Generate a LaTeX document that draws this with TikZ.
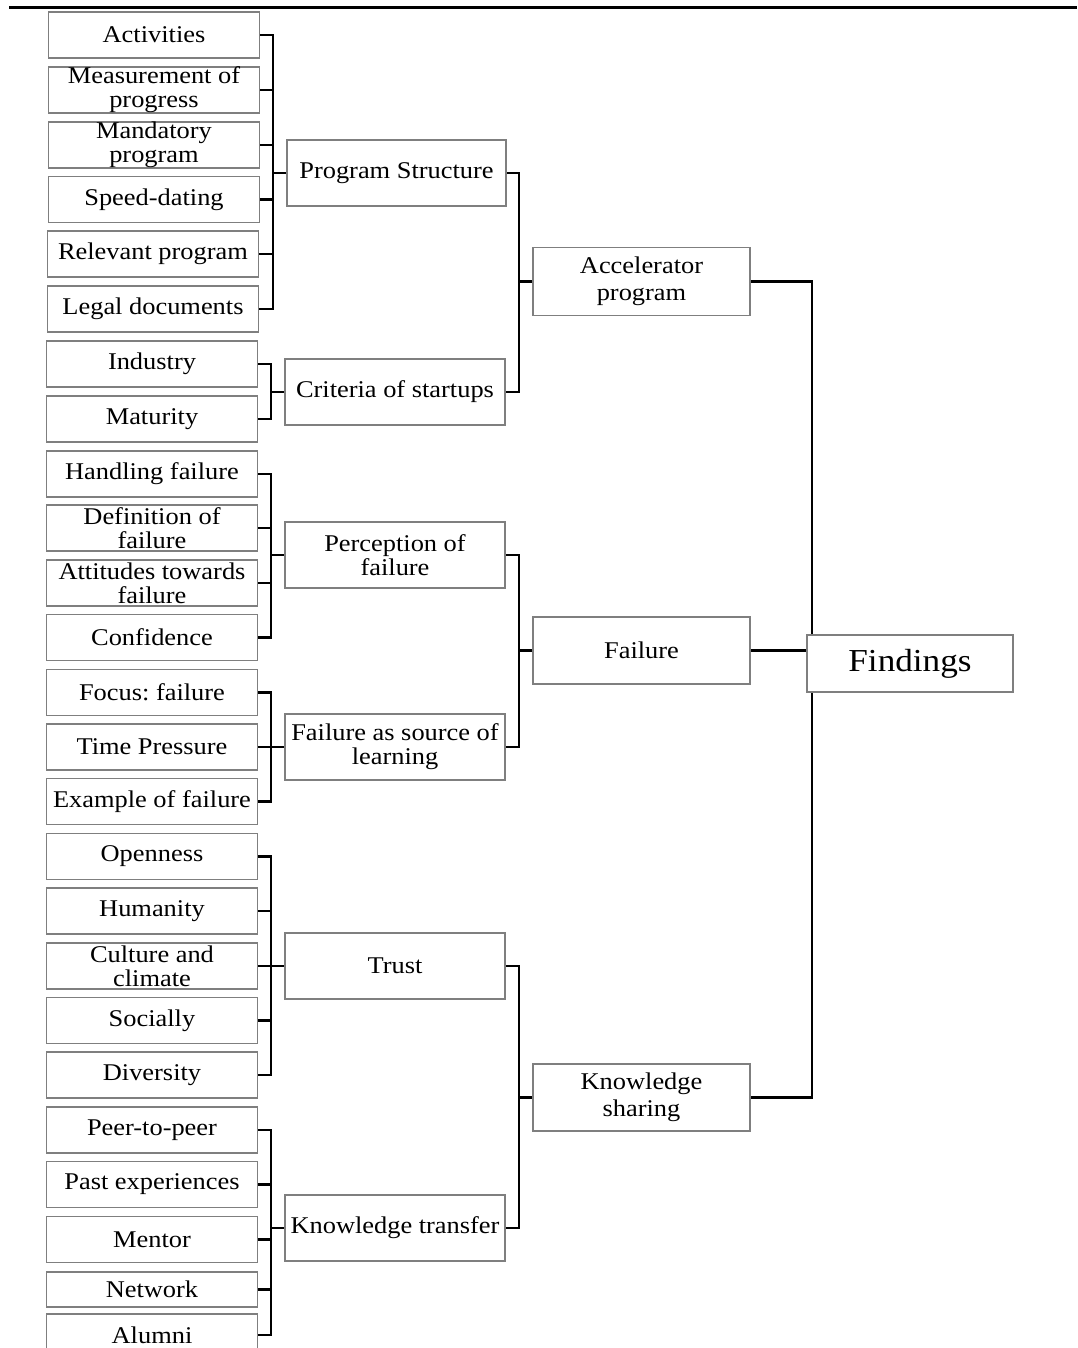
\documentclass[tikz,border=0pt]{standalone}
\usepackage{fontspec}
\setmainfont{Liberation Serif}[FakeStretch=1.1]
\usetikzlibrary{backgrounds}
\definecolor{boxgray}{HTML}{7F7F7F}
\frenchspacing
\begin{document}
\begin{tikzpicture}[x=1pt,y=-1pt,
  box/.style={draw=boxgray, line width=1.3pt, fill=white, inner sep=0pt, align=center, font=\fontsize{24}{24}\selectfont},
  leaf/.style={box, minimum width=211pt, minimum height=46pt},
  midbox/.style={box, minimum width=220pt, minimum height=66pt},
  topbox/.style={box, minimum width=217pt, minimum height=67pt, font=\fontsize{24}{27}\selectfont},
  rootbox/.style={box, minimum width=206pt, minimum height=57pt, font=\fontsize{32}{34}\selectfont},
  link/.style={line width=2.7pt, black}]
\useasboundingbox (0,0) rectangle (1077,1348);
\clip (0,0) rectangle (1077,1348);
\draw[line width=3pt] (9,7.5) -- (1077,7.5);

% bracket coordinates
\coordinate (b1) at (273,0);
\coordinate (b1x) at (271,0);
\coordinate (b2) at (519,0);
\coordinate (b3) at (812,0);

% leaves
\node[leaf] (act)   at (154,35)   {Activities};
\node[leaf] (meas)  at (154,90)   {Measurement of\\progress};
\node[leaf] (mand)  at (154,145)  {Mandatory\\program};
\node[leaf] (speed) at (154,199.5){Speed-dating};
\node[leaf] (rel)   at (153,254)  {Relevant program};
\node[leaf] (legal) at (153,309)  {Legal documents};
\node[leaf] (ind)   at (152,364)  {Industry};
\node[leaf] (mat)   at (152,419)  {Maturity};
\node[leaf] (hand)  at (152,474)  {Handling failure};
\node[leaf] (defi)  at (152,528)  {Definition of\\failure};
\node[leaf] (att)   at (152,583)  {Attitudes towards\\failure};
\node[leaf] (conf)  at (152,637.5){Confidence};
\node[leaf] (focus) at (152,692.5){Focus: failure};
\node[leaf] (timep) at (152,747)  {Time Pressure};
\node[leaf] (exam)  at (152,801.5){Example of failure};
\node[leaf] (open)  at (152,856.5){Openness};
\node[leaf] (hum)   at (152,911)  {Humanity};
\node[leaf] (cult)  at (152,966)  {Culture and\\climate};
\node[leaf] (soc)   at (152,1020.5){Socially};
\node[leaf] (divs)  at (152,1075) {Diversity};
\node[leaf] (peer)  at (152,1130) {Peer-to-peer};
\node[leaf] (past)  at (152,1184.5){Past experiences};
\node[leaf] (ment)  at (152,1239.5){Mentor};
\node[leaf, minimum height=35pt] (net) at (152,1289.5){Network};
\node[leaf, minimum height=42pt] (alum) at (152,1335){Alumni};

% middle
\node[midbox, minimum width=219pt] (ps) at (396.5,173) {Program Structure};
\node[midbox] (crit) at (395,392) {Criteria of startups};
\node[midbox] (perc) at (395,555) {Perception of\\failure};
\node[midbox] (fasl) at (395,747) {Failure as source of\\learning};
\node[midbox] (trust) at (395,966) {Trust};
\node[midbox] (kt) at (395,1228) {Knowledge transfer};

% top level
\node[topbox, minimum height=68pt] (acc) at (641.5,281.5) {Accelerator\\program};
\node[topbox] (fail) at (641.5,650.5) {Failure};
\node[topbox] (ks) at (641.5,1097.5) {Knowledge\\sharing};

% root
\node[rootbox] (find) at (910,663.5) {Findings};

\begin{pgfonlayer}{background}
\fill[white] (0,0) rectangle (1077,1348);
\foreach \l in {act,meas,mand,speed,rel,legal}
  \draw[link] (\l.east) -- (\l.east -| b1) |- (ps.west);
\foreach \l in {ind,mat}
  \draw[link] (\l.east) -- (\l.east -| b1x) |- (crit.west);
\foreach \l in {hand,defi,att,conf}
  \draw[link] (\l.east) -- (\l.east -| b1x) |- (perc.west);
\foreach \l in {focus,timep,exam}
  \draw[link] (\l.east) -- (\l.east -| b1x) |- (fasl.west);
\foreach \l in {open,hum,cult,soc,divs}
  \draw[link] (\l.east) -- (\l.east -| b1x) |- (trust.west);
\foreach \l in {peer,past,ment,net,alum}
  \draw[link] (\l.east) -- (\l.east -| b1x) |- (kt.west);
\foreach \l in {ps,crit}
  \draw[link] (\l.east) -- (\l.east -| b2) |- (acc.west);
\foreach \l in {perc,fasl}
  \draw[link] (\l.east) -- (\l.east -| b2) |- (fail.west);
\foreach \l in {trust,kt}
  \draw[link] (\l.east) -- (\l.east -| b2) |- (ks.west);
\draw[link] (acc.east) -- (acc.east -| b3) -- (ks.east -| b3) -- (ks.east);
\draw[link] (fail.east) -- (fail.east -| find.west);
\end{pgfonlayer}
\end{tikzpicture}
\end{document}
